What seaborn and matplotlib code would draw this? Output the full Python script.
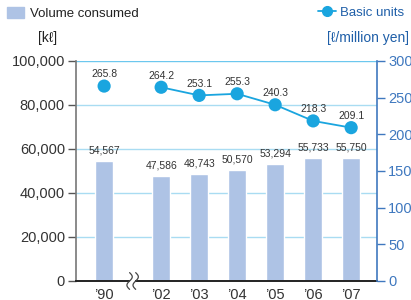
import numpy as np
import pandas as pd
import matplotlib
matplotlib.use("Agg")
import matplotlib.pyplot as plt
from matplotlib.lines import Line2D
from matplotlib.patches import Patch
import seaborn as sns

years = ["’90", "’02", "’03", "’04", "’05", "’06", "’07"]
positions = [0, 1.5, 2.5, 3.5, 4.5, 5.5, 6.5]
volume = [54567, 47586, 48743, 50570, 53294, 55733, 55750]
units = [265.8, 264.2, 253.1, 255.3, 240.3, 218.3, 209.1]

bar_color = "#aec3e5"
line_color = "#1aa5df"
grid_color = "#a9dcf2"
right_color = "#3f78bf"
text_color = "#333333"

sns.set_style("white")
plt.rcParams["font.family"] = ["Liberation Sans", "DejaVu Sans"]

df = pd.DataFrame({"pos": positions, "volume": volume, "units": units})

fig = plt.figure(figsize=(4.11, 3.0), dpi=100)
ax = fig.add_axes([76 / 411, 19 / 300, 301 / 411, 220 / 300])

sns.barplot(data=df, x="pos", y="volume", native_scale=True, width=0.48,
            color=bar_color, saturation=1, ax=ax, zorder=2)
ax.set_xlim(-0.74, 7.18)
ax.set_ylim(0, 100000)
ax.set_yticks(np.arange(0, 100001, 20000))
ax.set_yticklabels([f"{v:,}" for v in range(0, 100001, 20000)], fontsize=10.5, color=text_color)
ax.set_xticks(positions)
ax.set_xticklabels(years, fontsize=10.5, color=text_color)
ax.tick_params(axis="x", length=0, pad=5)
ax.tick_params(axis="y", length=6, width=1, color="#555555", direction="out", pad=2)
ax.set_xlabel("")
ax.set_ylabel("")
for y in range(20000, 100001, 20000):
    ax.axhline(y, color=grid_color if y < 100000 else "#6cc7ee", lw=1, zorder=1)
ax.spines["top"].set_visible(False)
ax.spines["left"].set_color("#777777")
ax.spines["left"].set_linewidth(1.2)
ax.spines["bottom"].set_color("#222222")
ax.spines["bottom"].set_linewidth(1.4)
ax.spines["right"].set_visible(False)

for p, v in zip(positions, volume):
    ax.text(p, v + 2500, f"{v:,}", ha="center", va="bottom", fontsize=7.5, color=text_color)

# axis break mark
xt = ax.get_xaxis_transform()
ax.fill_between([0.68, 0.82], [-0.01, -0.01], [0.01, 0.01], transform=xt, color="white",
                clip_on=False, zorder=4, lw=0)
for dx in (-0.08, 0.08):
    yy = np.linspace(-0.038, 0.038, 40)
    xx = 0.75 + dx + 0.07 * np.sin(yy / 0.038 * np.pi)
    ax.plot(xx, yy, transform=xt, color="#444444", lw=0.9, clip_on=False, zorder=5)

ax2 = ax.twinx()
sns.lineplot(data=df.iloc[1:], x="pos", y="units", color=line_color, lw=1.3, ax=ax2, zorder=3)
sns.scatterplot(data=df, x="pos", y="units", color=line_color, s=90, edgecolor="none",
                ax=ax2, zorder=4)
ax2.set_ylim(0, 300)
ax2.set_yticks(np.arange(0, 301, 50))
ax2.set_yticklabels([str(v) for v in range(0, 301, 50)], fontsize=10.5, color=right_color)
ax2.tick_params(axis="y", length=6, width=1, color=right_color, direction="out", pad=2)
ax2.set_ylabel("")
ax2.set_xlabel("")
ax2.grid(False)
for s in ["top", "left", "bottom"]:
    ax2.spines[s].set_visible(False)
ax2.spines["right"].set_color(right_color)
ax2.spines["right"].set_linewidth(1.2)

for p, u in zip(positions, units):
    ax2.text(p, u + 9, f"{u}", ha="center", va="bottom", fontsize=7.5, color=text_color)

fig.legend(handles=[Patch(color=bar_color)], labels=["Volume consumed"], loc="upper left",
           bbox_to_anchor=(0 / 411, 1.0), frameon=False, fontsize=9.5, handlelength=1.3,
           handleheight=1.0, handletextpad=0.5, labelcolor="#222222", borderaxespad=0.1)
fig.text(38 / 411, 1 - 38 / 300, "[kℓ]", fontsize=10, color="#222222", va="center")

fig.legend(handles=[Line2D([0], [0], color=line_color, marker="o", markersize=7, lw=1.3)],
           labels=["Basic units"], loc="upper right", bbox_to_anchor=(411 / 411, 1.0),
           frameon=False, fontsize=9.5, handlelength=1.4, handletextpad=0.3,
           labelcolor="#1f5fa8", borderaxespad=0.1)
fig.text(409 / 411, 1 - 38 / 300, "[ℓ/million yen]", fontsize=10, color="#1f5fa8",
         va="center", ha="right")

fig.savefig("out.png", dpi=100)
